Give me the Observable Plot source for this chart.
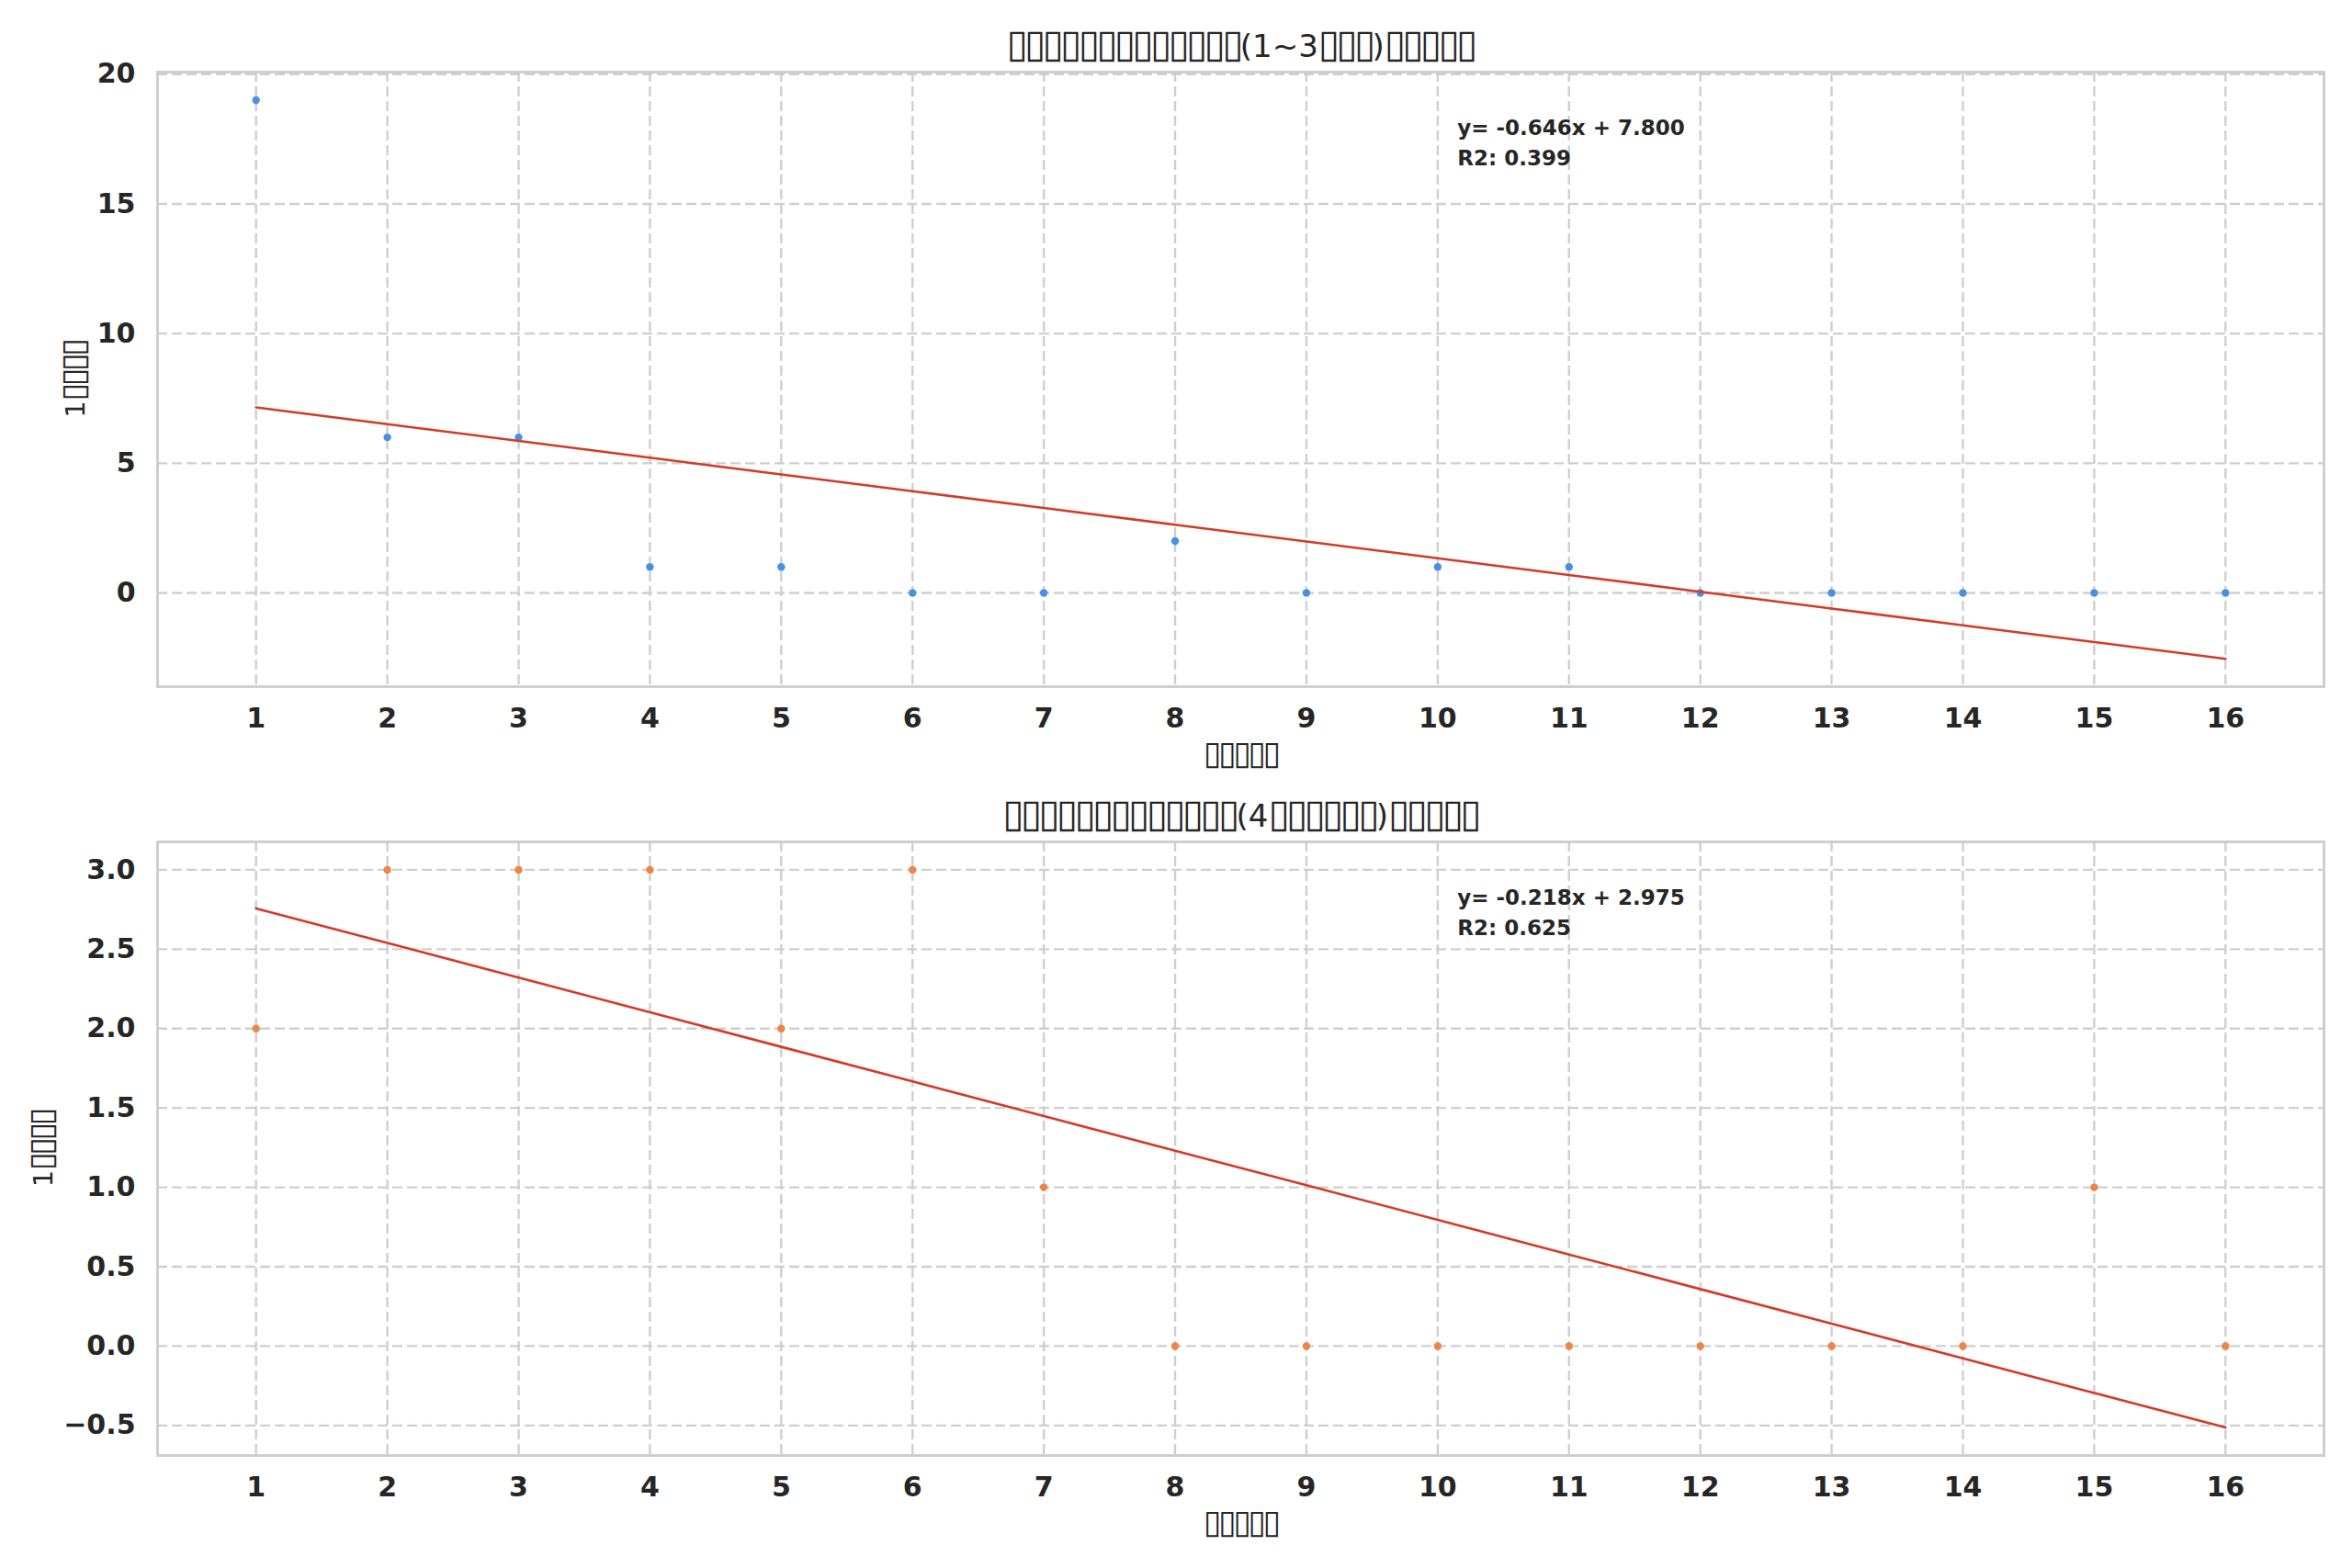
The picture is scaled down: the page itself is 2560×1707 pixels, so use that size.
<!DOCTYPE html>
<html><head><meta charset="utf-8">
<script src="https://cdn.jsdelivr.net/npm/d3@7"></script>
<script src="https://cdn.jsdelivr.net/npm/@observablehq/plot@0.6"></script>
<style>
html,body{margin:0;padding:0;background:#fff;}
#wrap{position:relative;width:2560px;height:1707px;font-family:"DejaVu Sans",sans-serif;overflow:hidden;}
.title{position:absolute;left:171px;width:2358px;text-align:center;font-size:34px;line-height:44px;color:#262626;white-space:nowrap;}
.tofu{font-size:1.25em;letter-spacing:-0.09em;}
#wrap svg{position:absolute;left:0;}
</style></head><body><div id="wrap"></div>
<script>
// ---- data ----
const weeks = [1, 2, 3, 4, 5, 6, 7, 8, 9, 10, 11, 12, 13, 14, 15, 16];
const earlyCounts = [19, 6, 6, 1, 1, 0, 0, 2, 0, 1, 1, 0, 0, 0, 0, 0];
const lateCounts = [2, 3, 3, 3, 2, 3, 1, 0, 0, 0, 0, 0, 0, 0, 1, 0];
const fitSlopes = [-0.646, -0.218];
const fitIntercepts = [7.800, 2.975];
const fitR2 = [0.399, 0.625];
const titleParts = [
  ["▯▯▯▯▯▯▯▯▯▯▯▯▯", "(1~3", "▯▯▯", ")", "▯▯▯▯▯"],
  ["▯▯▯▯▯▯▯▯▯▯▯▯▯", "(4", "▯▯▯▯▯▯", ")", "▯▯▯▯▯"]
];
const xLabel = "▯▯▯▯▯";
const yLabel = "1▯▯▯▯";
const xTicks = weeks;
const yTicksTop = [0, 5, 10, 15, 20];
const yTicksBottom = [-0.5, 0, 0.5, 1.0, 1.5, 2.0, 2.5, 3.0];
const pointColors = ["#4a90e2", "#ee8445"];
const lineColor = "#d33a2a";

const wrap = document.getElementById("wrap");

function addTitle(parts, top) {
  const div = document.createElement("div");
  div.className = "title";
  div.style.top = top + "px";
  parts.forEach(p => {
    const s = document.createElement("span");
    s.textContent = p;
    if (p.includes("▯")) s.className = "tofu";
    div.appendChild(s);
  });
  wrap.appendChild(div);
}

// enlarge the box glyphs inside an SVG text element, keeping other characters as they are
function styleTofu(textEl) {
  const str = textEl.textContent;
  while (textEl.firstChild) textEl.removeChild(textEl.firstChild);
  const runs = str.match(/▯+|[^▯]+/g) || [];
  runs.forEach(r => {
    const t = document.createElementNS("http://www.w3.org/2000/svg", "tspan");
    t.textContent = r;
    if (r.includes("▯")) {
      t.setAttribute("font-size", "36");
      t.setAttribute("letter-spacing", "-3.6");
    }
    textEl.appendChild(t);
  });
}

function panel(counts, idx, yDomain, yTicks, yFmt, yLabelDx, top, height) {
  const slope = fitSlopes[idx], intercept = fitIntercepts[idx];
  const data = weeks.map((w, i) => ({week: w, count: counts[i]}));
  const fit = weeks.map(w => ({week: w, value: slope * w + intercept}));
  const note = `y= ${slope.toFixed(3)}x + ${intercept.toFixed(3)}\nR2: ${fitR2[idx].toFixed(3)}`;
  const plotW = 2560 - 171 - 31;
  const svg = Plot.plot({
    width: 2560,
    height: height,
    marginLeft: 171,
    marginRight: 31,
    marginTop: 28,
    marginBottom: 110,
    style: {fontFamily: "DejaVu Sans", background: "transparent", color: "#262626"},
    x: {domain: [0.25, 16.75]},
    y: {domain: yDomain},
    marks: [
      Plot.gridX(xTicks, {stroke: "#cfcfcf", strokeOpacity: 1, strokeWidth: 2.4, strokeDasharray: "11,5"}),
      Plot.gridY(yTicks, {stroke: "#cfcfcf", strokeOpacity: 1, strokeWidth: 2.4, strokeDasharray: "11,5"}),
      Plot.frame({stroke: "#cccccc", strokeWidth: 2.8}),
      Plot.axisX(xTicks, {tickSize: 0, tickPadding: 23, fontSize: 30, fontWeight: "bold", fill: "#262626", label: null, tickFormat: d3.format("d")}),
      Plot.axisY(yTicks, {tickSize: 0, tickPadding: 24, fontSize: 30, fontWeight: "bold", fill: "#262626", label: null, tickFormat: yFmt}),
      Plot.dot(data, {x: "week", y: "count", r: 4.2, fill: pointColors[idx], stroke: "none"}),
      Plot.line(fit, {x: "week", y: "value", stroke: lineColor, strokeWidth: 2.6}),
      Plot.text([note], {text: d => d, frameAnchor: "top-left", dx: 0.6 * plotW, dy: 45, textAnchor: "start", lineAnchor: "top", lineHeight: 1.435, fontSize: 23, fontWeight: "bold", fill: "#262626"}),
      Plot.text([xLabel], {text: d => d, frameAnchor: "bottom", dy: 75, lineAnchor: "middle", textAnchor: "middle", fontSize: 29, fill: "#262626"}),
      Plot.text([yLabel], {text: d => d, frameAnchor: "left", dx: yLabelDx, rotate: -90, lineAnchor: "middle", textAnchor: "middle", fontSize: 29, fill: "#262626"})
    ]
  });
  svg.querySelectorAll("text").forEach(t => {
    if (t.textContent === xLabel || t.textContent === yLabel) styleTofu(t);
  });
  svg.style.top = top + "px";
  wrap.appendChild(svg);
}

addTitle(titleParts[0], 26);
panel(earlyCounts, 0, [-3.61, 20.08], yTicksTop, d3.format("d"), -89, 50, 807);
addTitle(titleParts[1], 864);
panel(lateCounts, 1, [-0.689, 3.176], yTicksBottom, d3.format(".1f"), -124, 888, 806);
</script></body></html>
